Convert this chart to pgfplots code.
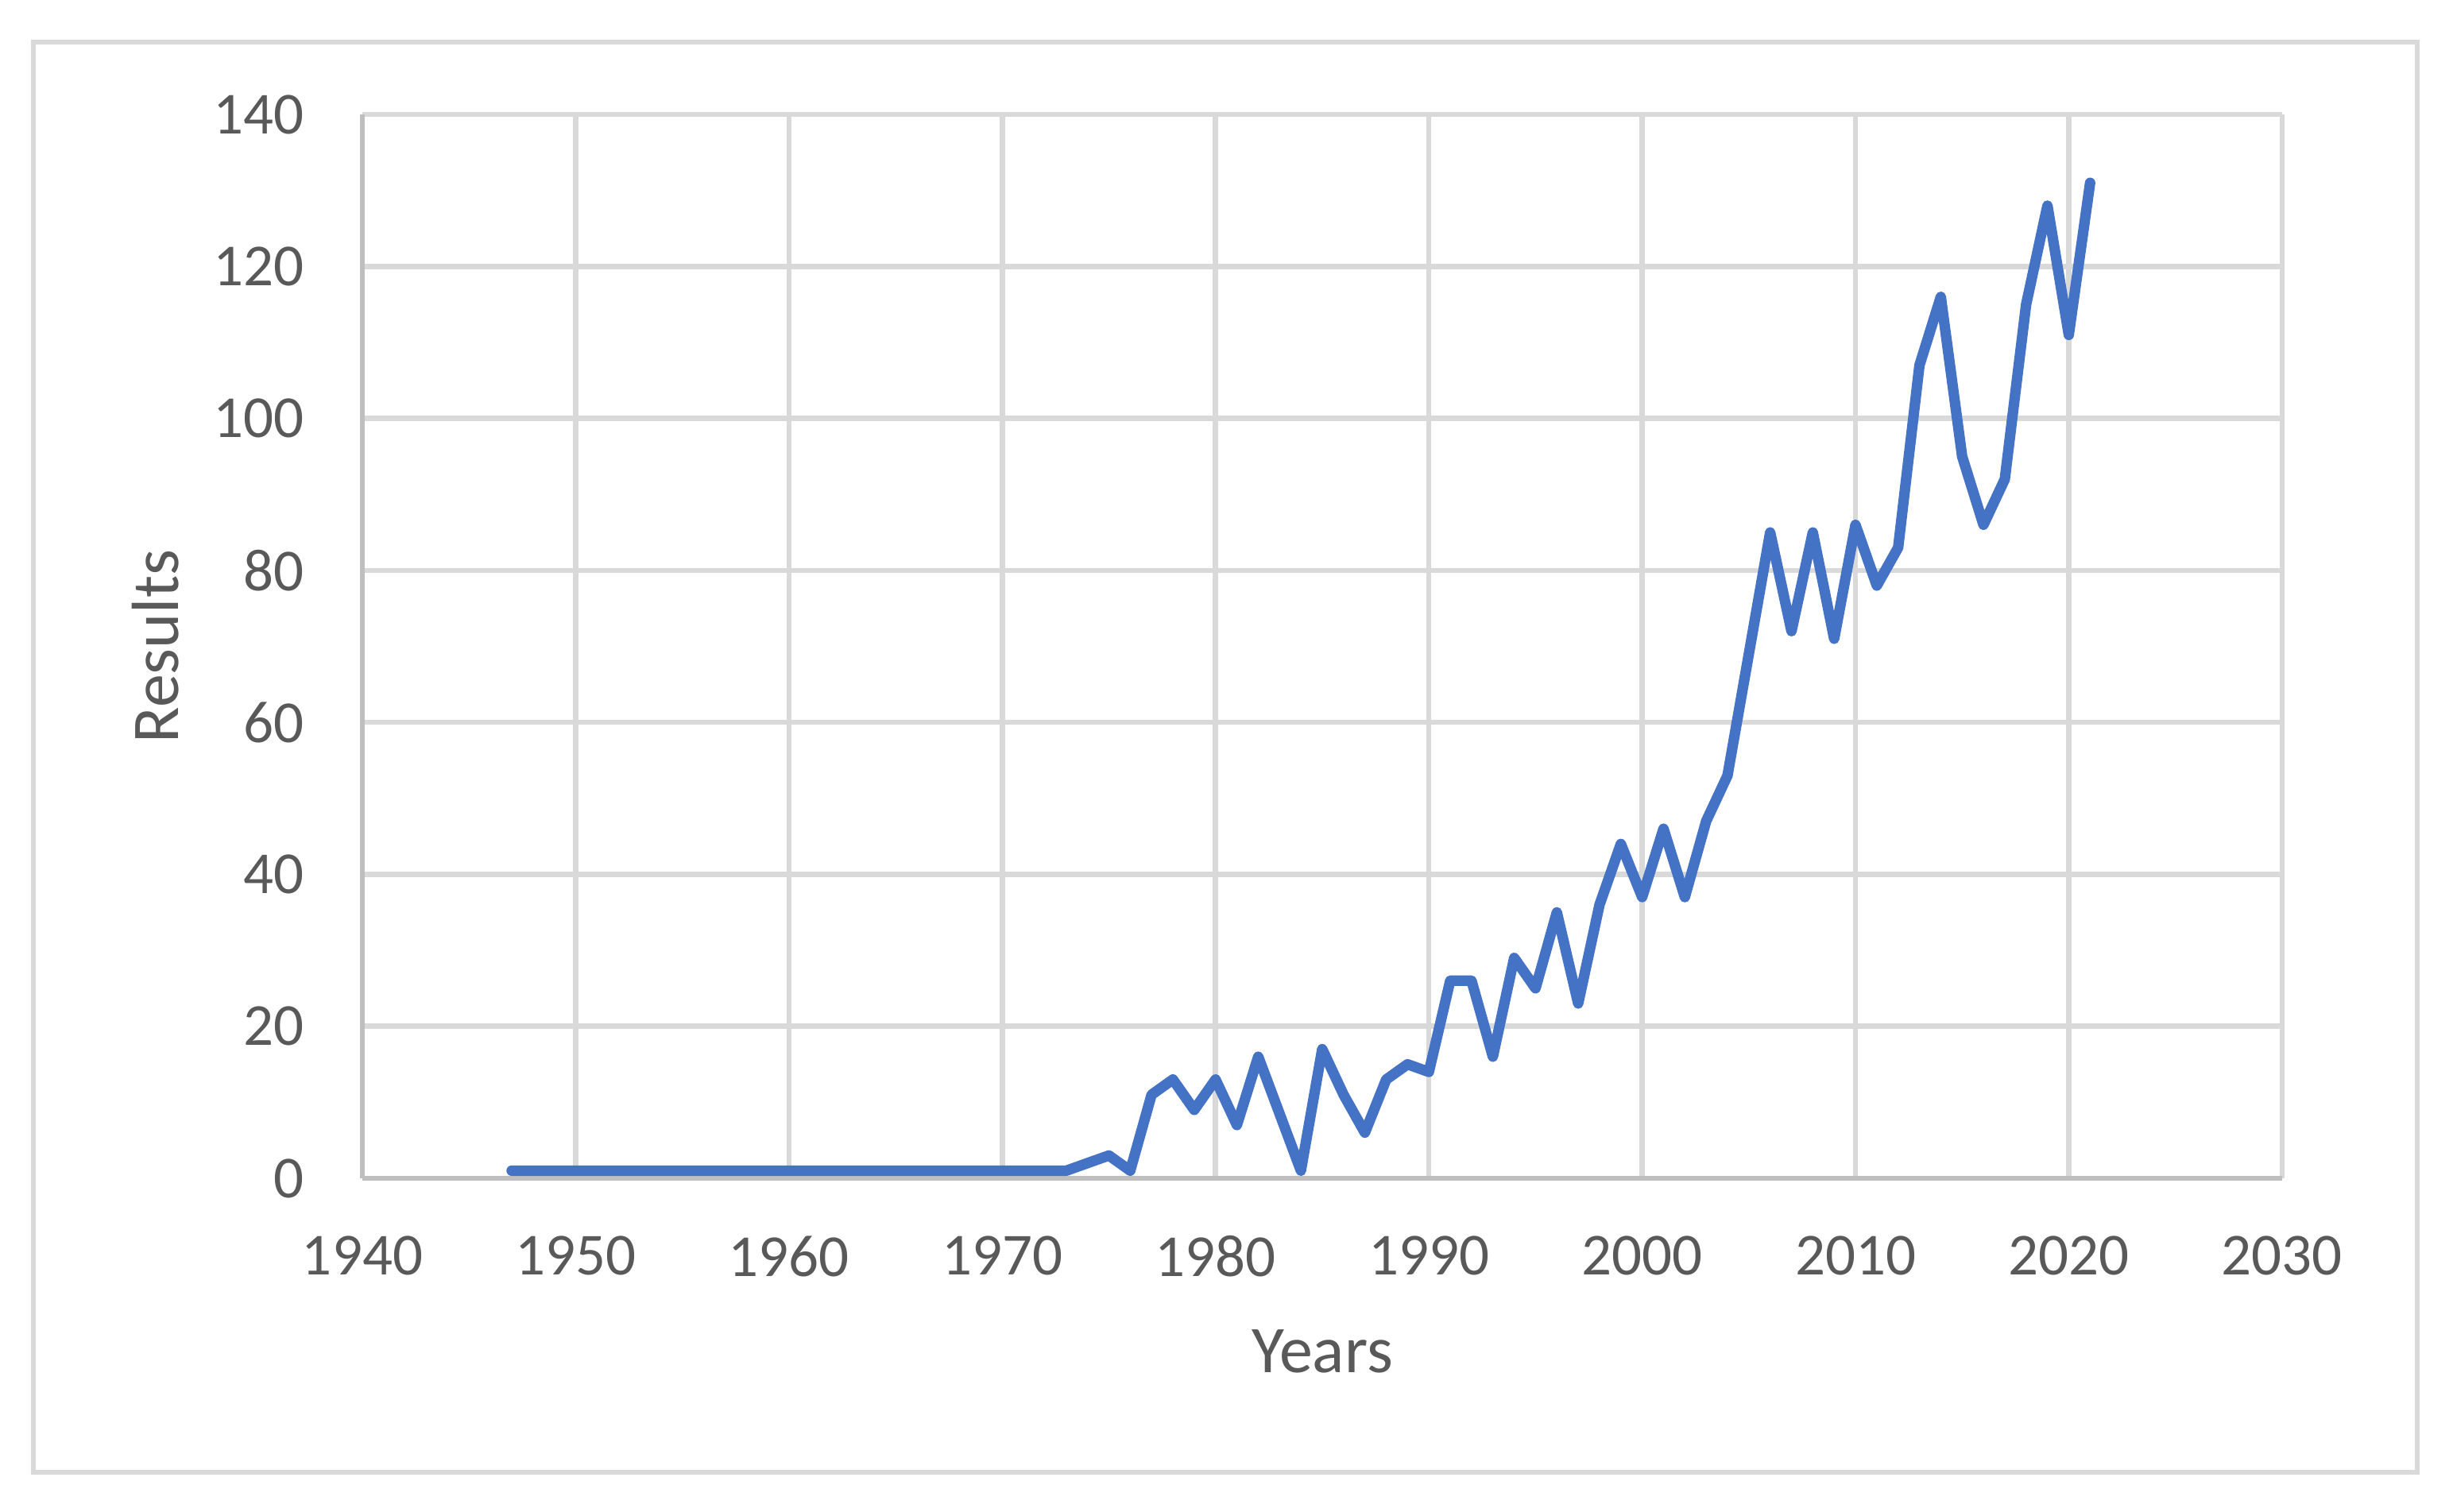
\documentclass[border=0pt]{standalone}
\usepackage{pgfplots}
\pgfplotsset{compat=1.18}
\usepackage{fontspec}
\setmainfont{Carlito}
\definecolor{txt}{HTML}{595959}
\definecolor{grd}{HTML}{D9D9D9}
\definecolor{axl}{HTML}{BFBFBF}
\definecolor{ser}{HTML}{4472C4}
\begin{document}
\begin{tikzpicture}
\useasboundingbox (0,0) rectangle (1029pt,634.33pt);
\fill[white] (0,0) rectangle (1029pt,634.33pt);
\draw[grd, line width=2.2pt] (14pt,16.67pt) rectangle (1014pt,616.67pt);
\begin{axis}[
  at={(152pt,140pt)}, anchor=south west,
  scale only axis, width=805.3pt, height=446.3pt,
  xmin=1940, xmax=2030, ymin=0, ymax=140,
  xtick={1940,1950,...,2030}, ytick={0,20,...,140},
  axis x line*=bottom, axis y line*=left,
  axis line style={axl, line width=2.2pt, -},
  tick style={draw=none},
  grid=major,
  major grid style={grd, line width=2.2pt},
  /pgf/number format/assume math mode=true,
  /pgf/number format/set thousands separator={},
  ticklabel style={font=\fontsize{25}{30}\selectfont, text=txt, inner sep=0pt},
  xticklabel style={anchor=north, yshift=-24pt},
  yticklabel style={anchor=east, xshift=-24.3pt},
  xlabel={Years}, ylabel={Results},
  label style={font=\fontsize{28}{33}\selectfont, text=txt, inner sep=0pt},
  xlabel style={at={(axis description cs:0.5,-0.18245)}, anchor=base},
  ylabel style={at={(axis description cs:-0.09562,0.5)}, anchor=base, rotate=0},
  clip=false,
]
\addplot[ser, line width=4.4pt, line cap=round, line join=round, mark=none] coordinates {
(1947,1)(1948,1)(1949,1)(1950,1)(1951,1)(1952,1)(1953,1)(1954,1)(1955,1)(1956,1)
(1957,1)(1958,1)(1959,1)(1960,1)(1961,1)(1962,1)(1963,1)(1964,1)(1965,1)(1966,1)
(1967,1)(1968,1)(1969,1)(1970,1)(1971,1)(1972,1)(1973,1)
(1974,2)(1975,3)(1976,1)(1977,11)(1978,13)(1979,9)(1980,13)(1981,7)(1982,16)(1983,8.5)
(1984,1)(1985,17)(1986,11)(1987,6)(1988,13)(1989,15)(1990,14)(1991,26)(1992,26)(1993,16)
(1994,29)(1995,25)(1996,35)(1997,23)(1998,36)(1999,44)(2000,37)(2001,46)(2002,37)(2003,47)
(2004,53)(2005,69)(2006,85)(2007,72)(2008,85)(2009,71)(2010,86)(2011,78)(2012,83)(2013,107)
(2014,116)(2015,95)(2016,86)(2017,92)(2018,115)(2019,128)(2020,111)(2021,131)
};
\end{axis}
\end{tikzpicture}
\end{document}
